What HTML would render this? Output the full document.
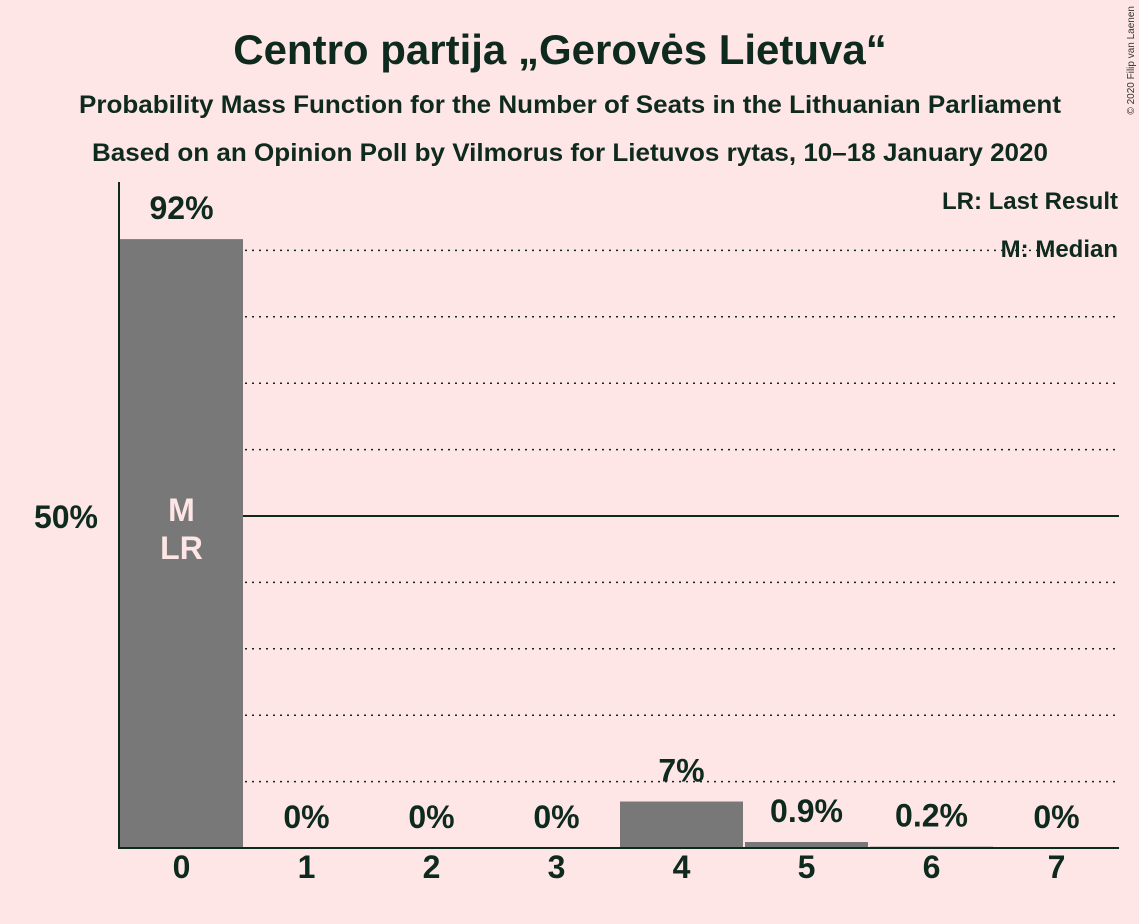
<!DOCTYPE html>
<html><head><meta charset="utf-8"><style>
body{margin:0;background:#ffe6e6;}
svg{display:block;font-family:"Liberation Sans",sans-serif;font-weight:bold;}
</style></head><body>
<svg width="1139" height="924">
<rect width="1139" height="924" fill="#ffe6e6"/>
<text x="560" y="64" text-anchor="middle" font-size="42" fill="#0e2a1e">Centro partija „Gerovės Lietuva“</text>
<text x="570" y="113" text-anchor="middle" font-size="25" textLength="982" lengthAdjust="spacingAndGlyphs" fill="#0e2a1e">Probability Mass Function for the Number of Seats in the Lithuanian Parliament</text>
<text x="570" y="161" text-anchor="middle" font-size="25" textLength="956" lengthAdjust="spacingAndGlyphs" fill="#0e2a1e">Based on an Opinion Poll by Vilmorus for Lietuvos rytas, 10–18 January 2020</text>
<text x="1134" y="6" transform="rotate(-90 1134 6)" text-anchor="end" font-size="10" font-weight="normal" fill="#333">© 2020 Filip van Laenen</text>
<g id="grid"></g>
<g id="bars"></g>
<line x1="119" y1="182" x2="119" y2="849" stroke="#0e2a1e" stroke-width="2"/>
<line x1="118" y1="848" x2="1119" y2="848" stroke="#0e2a1e" stroke-width="2"/>
<text x="98" y="528" text-anchor="end" font-size="32" fill="#0e2a1e">50%</text>
<text x="1118" y="209" text-anchor="end" font-size="24" fill="#0e2a1e">LR: Last Result</text>
<text x="1118" y="257" text-anchor="end" font-size="24" fill="#0e2a1e">M: Median</text>
</svg>
<script>
const categories=[0,1,2,3,4,5,6,7];
const values=[91.7,0,0,0,7,0.9,0.2,0];
const labels=["92%","0%","0%","0%","7%","0.9%","0.2%","0%"];
const NS="http://www.w3.org/2000/svg";
const x0=119,slot=125,y0=848,pxPer=6.64;
const y=v=>y0-v*pxPer;
const xs=i=>x0+i*slot;
function mk(t,a,p){const e=document.createElementNS(NS,t);for(const k in a)e.setAttribute(k,a[k]);p.appendChild(e);return e;}
const g=document.getElementById('grid'),b=document.getElementById('bars');
for(let v=10;v<=90;v+=10){
  const l=mk('line',{x1:x0,x2:1119,y1:y(v),y2:y(v),stroke:'#0e2a1e','stroke-width':v==50?2:1.5,'stroke-dasharray':v==50?'none':'2,5'},g);
  
  
}
categories.forEach((c,i)=>{
  const v=values[i];
  if(v>0){
    const r=mk('rect',{x:xs(i)+1,y:y(v),width:slot-2,height:y0-y(v),fill:'#787878'},b);
    
    
  }
  const t=mk('text',{x:xs(i)+slot/2,y:y(v)-20,'text-anchor':'middle','font-size':32,fill:'#0e2a1e'},b);
  t.textContent=labels[i];
  
  
  const xt=mk('text',{x:xs(i)+slot/2,y:878,'text-anchor':'middle','font-size':32,fill:'#0e2a1e'},b);
  xt.textContent=c;
  
  
});
const m=mk('text',{x:xs(0)+slot/2,y:521,'text-anchor':'middle','font-size':32,fill:'#ffe6e6'},b);
m.textContent='M';


const lr=mk('text',{x:xs(0)+slot/2,y:559,'text-anchor':'middle','font-size':32,fill:'#ffe6e6'},b);
lr.textContent='LR';


</script>
</body></html>
